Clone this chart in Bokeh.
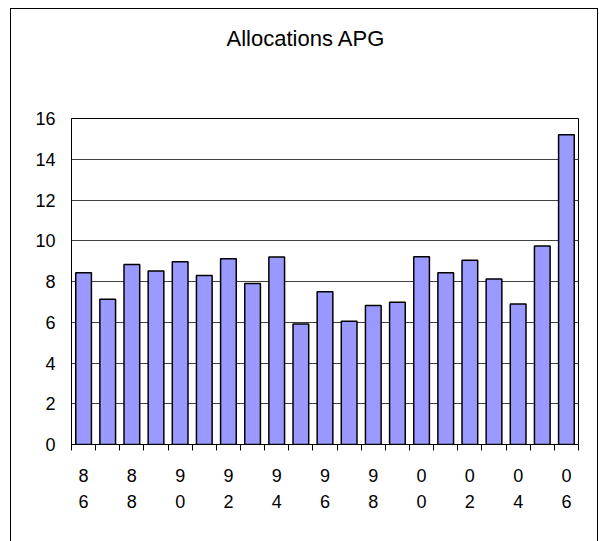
from bokeh.plotting import figure
from bokeh.models import FixedTicker, Range1d, ColumnDataSource, Title
from bokeh.embed import file_html
from bokeh.resources import INLINE

# ---- data ----
years = [1986, 1987, 1988, 1989, 1990, 1991, 1992, 1993, 1994, 1995, 1996,
         1997, 1998, 1999, 2000, 2001, 2002, 2003, 2004, 2005, 2006]
values = [8.43, 7.13, 8.83, 8.52, 8.97, 8.29, 9.12, 7.90, 9.20, 5.91, 7.50,
          6.05, 6.82, 6.98, 9.22, 8.43, 9.04, 8.12, 6.90, 9.74, 15.20]
tick_years = [1986, 1988, 1990, 1992, 1994, 1996, 1998, 2000, 2002, 2004, 2006]
tick_labels = ["8\n6", "8\n8", "9\n0", "9\n2", "9\n4", "9\n6", "9\n8",
               "0\n0", "0\n2", "0\n4", "0\n6"]
y_ticks = [0, 2, 4, 6, 8, 10, 12, 14, 16]
title_text = "Allocations APG"

FONT = "Liberation Sans"

src = ColumnDataSource(dict(x=years, top=values))

p = figure(
    width=586, height=532,
    frame_width=507, frame_height=326,
    output_backend="svg", toolbar_location=None,
    x_range=Range1d(years[0] - 0.5, years[-1] + 0.5),
    y_range=Range1d(0, 16),
    min_border_left=60, min_border_top=109, min_border_right=19,
    min_border_bottom=97,
)
p.styles = {"border": "1px solid black", "margin-left": "10px", "margin-top": "8px"}

p.title.text = title_text
p.title.align = "left"
p.title.offset = 155
p.title.standoff = 10
p.title.text_font = FONT
p.title.text_font_size = "22px"
p.title.text_font_style = "normal"
p.title.text_color = "black"

# blank spacer between the title and the plot area
p.add_layout(Title(text=" ", text_font_size="30px", standoff=28), "above")

p.vbar(x="x", top="top", width=0.65, source=src,
       fill_color="#9999FF", line_color="black", line_width=1.5)

p.outline_line_color = "black"
p.outline_line_width = 1

# y axis
p.yaxis.ticker = FixedTicker(ticks=y_ticks)
p.yaxis.major_tick_out = 0
p.yaxis.major_tick_in = 0
p.yaxis.minor_tick_out = 0
p.yaxis.minor_tick_in = 0
p.yaxis.axis_line_color = "black"
p.yaxis.major_label_text_font = FONT
p.yaxis.major_label_text_font_size = "18px"
p.yaxis.major_label_text_color = "black"
p.yaxis.major_label_standoff = 16

# x axis
boundaries = [y - 0.5 for y in years] + [years[-1] + 0.5]
p.xaxis.ticker = FixedTicker(ticks=tick_years, minor_ticks=boundaries)
p.xaxis.major_label_overrides = {y: l for y, l in zip(tick_years, tick_labels)}
p.xaxis.major_tick_out = 0
p.xaxis.major_tick_in = 0
p.xaxis.minor_tick_out = 6
p.xaxis.minor_tick_in = 0
p.xaxis.minor_tick_line_color = "black"
p.xaxis.axis_line_color = "black"
p.xaxis.major_label_text_font = FONT
p.xaxis.major_label_text_font_size = "18px"
p.xaxis.major_label_text_color = "black"
p.xaxis.major_label_text_line_height = 1.34
p.xaxis.major_label_standoff = 15

p.xgrid.grid_line_color = None
p.ygrid.ticker = FixedTicker(ticks=y_ticks)
p.ygrid.grid_line_color = "#404040"
p.ygrid.grid_line_width = 1

open("out.html", "w").write(file_html(p, INLINE))
